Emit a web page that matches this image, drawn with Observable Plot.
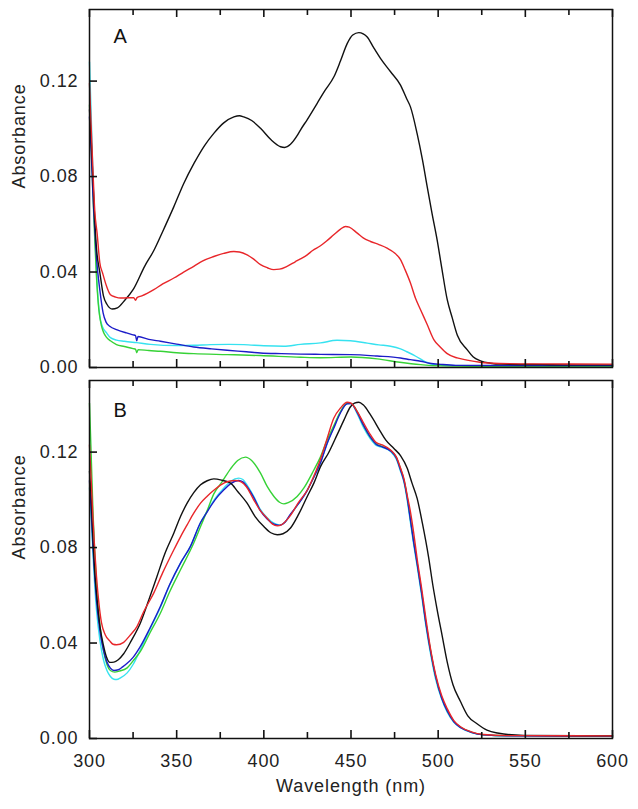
<!DOCTYPE html>
<html>
<head>
<meta charset="utf-8">
<script src="https://cdn.jsdelivr.net/npm/d3@7"></script>
<script src="https://cdn.jsdelivr.net/npm/@observablehq/plot@0.6"></script>
<style>
  html, body { margin: 0; padding: 0; background: #fff; }
  #chart svg text { letter-spacing: 0.9px; }
</style>
</head>
<body>
<div id="chart"></div>
<script>
// ---------- data ----------
const panels = ["A", "B"];
const seriesNames = ["cyan", "green", "blue", "black", "red"]; // drawing order
const seriesColors = ["#36e2f0", "#36d236", "#1c1cc8", "#111111", "#e8262a"];
const xDomain = [300, 600];
const yDomain = [0, 0.15];
const xTicks = [300, 350, 400, 450, 500, 550, 600];
const xMinorTicks = [325, 375, 425, 475, 525, 575];
const yTicks = [0, 0.04, 0.08, 0.12];

// Panel A spectra: [wavelength (nm), absorbance]
const A_black = [[300,0.108],[301,0.095],[302,0.078],[303,0.062],[304,0.050],[305.9,0.040],[308,0.030],[310,0.0265],[313,0.0245],[316,0.025],[320,0.028],[325,0.0326],[331.7,0.0425],[336.9,0.049],[342,0.057],[348.4,0.0674],[354,0.077],[360,0.0856],[366,0.093],[371.3,0.0981],[377,0.1025],[382.8,0.105],[386,0.1055],[388.5,0.105],[393,0.1035],[398.1,0.1002],[404,0.0955],[409.6,0.0925],[412,0.0922],[415.3,0.0935],[419,0.097],[421,0.0995],[425,0.104],[430.6,0.1107],[435,0.116],[440.2,0.1218],[444,0.1285],[447.8,0.1357],[451,0.1393],[454.5,0.1403],[457,0.1398],[459.3,0.1385],[463,0.134],[466.9,0.1295],[472.7,0.1239],[478.4,0.1183],[482,0.1125],[484.1,0.1092],[487.9,0.0981],[491,0.087],[493.7,0.0758],[496.5,0.0645],[499.4,0.0535],[502,0.042],[505.2,0.0284],[508,0.021],[511,0.0135],[516.6,0.0075],[520,0.0045],[524.3,0.0028],[530,0.0018],[536,0.0014],[560,0.0012],[580,0.0011],[600,0.0011]];
const A_red = [[300,0.119],[301,0.100],[302,0.082],[303,0.066],[304.4,0.056],[305.9,0.044],[307.5,0.0396],[309.8,0.034],[312,0.0305],[315,0.0295],[317.8,0.0291],[322,0.0292],[325.4,0.0292],[326.4,0.0282],[327.3,0.0293],[330,0.030],[336.9,0.0326],[342,0.035],[348.4,0.0375],[354,0.040],[359.8,0.0424],[365,0.0447],[371.3,0.0465],[377,0.0478],[382.8,0.0486],[386,0.0484],[390.4,0.0472],[394,0.0455],[398.1,0.0431],[402,0.0418],[405.7,0.041],[409,0.0412],[413.3,0.0424],[418,0.0443],[421,0.0455],[424.9,0.0472],[428,0.049],[432.5,0.051],[436,0.053],[440.1,0.0556],[444,0.058],[446.8,0.0591],[449,0.0588],[453.6,0.0563],[457,0.0543],[461.2,0.0528],[466,0.0515],[470.7,0.050],[475,0.048],[478.4,0.0452],[481,0.041],[484.1,0.0354],[487,0.029],[489.9,0.0242],[493.7,0.018],[497.5,0.0117],[501.3,0.0085],[505.2,0.0058],[510.9,0.0040],[516.6,0.0031],[524,0.0022],[535,0.0017],[560,0.0015],[600,0.0014]];
const A_blue = [[300,0.105],[301,0.090],[302,0.072],[303,0.058],[304,0.046],[305.9,0.0326],[307.8,0.0229],[309.5,0.019],[311.6,0.0173],[315.9,0.0158],[321.2,0.0145],[325,0.0137],[326.4,0.0134],[327.1,0.0112],[327.8,0.0130],[334,0.0118],[340.7,0.011],[350,0.0098],[359.8,0.0086],[370,0.0078],[379,0.0072],[390,0.0066],[398,0.0061],[410,0.0058],[421,0.0056],[432.5,0.0055],[449.7,0.0054],[465,0.0048],[478.4,0.0040],[484,0.0033],[490,0.0026],[495,0.0018],[501.5,0.0013],[510,0.0009],[600,0.0008]];
const A_cyan = [[300,0.128],[301,0.105],[302,0.080],[303,0.058],[304,0.040],[305.9,0.0215],[307.5,0.017],[309.8,0.0145],[312,0.0125],[315.5,0.0115],[320,0.011],[327,0.0104],[335,0.0097],[350,0.0092],[360,0.0093],[369.4,0.0096],[380,0.0097],[388.5,0.0096],[400,0.0091],[411.5,0.0089],[421,0.0097],[432.5,0.0103],[442,0.0114],[449.7,0.0112],[459.3,0.0102],[466,0.0095],[472.7,0.0089],[478.4,0.0078],[482,0.0066],[486,0.0052],[490,0.0035],[493.7,0.0021],[497,0.0013],[502,0.0009],[520,0.0008],[600,0.0008]];
const A_green = [[300,0.110],[301,0.092],[302,0.072],[303,0.054],[304,0.038],[305,0.027],[306.9,0.0173],[308.2,0.0145],[309.8,0.0126],[312,0.0112],[315.5,0.0096],[320,0.0088],[325,0.0079],[326.4,0.0077],[327.1,0.0062],[327.9,0.0075],[334,0.0071],[340.7,0.0068],[350,0.0062],[359.8,0.0058],[379,0.0054],[398,0.0050],[421,0.0043],[432.5,0.0041],[450,0.0044],[465,0.0036],[478,0.0022],[490,0.0012],[497,0.0008],[520,0.0005],[600,0.0005]];

// Panel B spectra
const B_black = [[300,0.112],[301,0.100],[302,0.083],[303,0.070],[304,0.061],[306,0.047],[308,0.039],[309.8,0.034],[311.6,0.0319],[314,0.032],[316.5,0.033],[319.6,0.0355],[324,0.041],[329.2,0.0484],[334,0.058],[338.7,0.0679],[343,0.077],[348.4,0.0861],[352.2,0.093],[356,0.0986],[359.8,0.103],[363.7,0.1063],[367.5,0.108],[371.3,0.1088],[376,0.1082],[380.9,0.107],[385,0.1035],[390.4,0.0986],[395,0.093],[400,0.0888],[404,0.0862],[407.7,0.0854],[411,0.0858],[415.3,0.0882],[420,0.094],[424.9,0.1014],[428.7,0.107],[432.5,0.1139],[437,0.1195],[442,0.1272],[446,0.1335],[449.7,0.139],[452,0.1405],[454.5,0.1409],[457,0.1398],[461.2,0.1356],[466.9,0.1286],[470,0.125],[474.5,0.1216],[478.4,0.1185],[482.2,0.1133],[485,0.107],[487.9,0.1007],[491,0.090],[494.5,0.076],[497,0.064],[499.4,0.054],[502.3,0.043],[505.2,0.032],[508.5,0.0225],[512.8,0.0155],[517,0.0095],[522.3,0.0062],[528,0.0035],[534,0.0023],[549,0.0013],[600,0.0011]];
const B_red = [[300,0.123],[301,0.108],[302,0.092],[303,0.079],[304,0.068],[305.5,0.056],[306.9,0.0484],[309,0.0435],[311.5,0.041],[313.5,0.0395],[315.5,0.0393],[319.6,0.0403],[323,0.043],[327.3,0.047],[331,0.053],[336.9,0.061],[342,0.0695],[348.4,0.0791],[352.2,0.0845],[356,0.0895],[359.8,0.0944],[363.7,0.0986],[367.5,0.1015],[371.3,0.104],[375.1,0.1062],[380,0.1078],[383.7,0.1081],[387,0.1075],[390,0.1055],[394.2,0.1000],[398,0.0955],[401.9,0.0923],[405,0.0898],[407.7,0.0891],[410,0.0895],[415.3,0.0935],[420,0.099],[424.9,0.104],[428.7,0.110],[432.5,0.117],[436,0.125],[440.1,0.1342],[444,0.1385],[447.8,0.1409],[450,0.1405],[453.6,0.137],[457,0.1325],[461.2,0.1272],[464.5,0.124],[467.9,0.123],[472.7,0.1209],[476,0.118],[478.4,0.1133],[480.5,0.1085],[482.2,0.102],[484.1,0.095],[486,0.086],[488,0.075],[490.5,0.063],[493,0.050],[496,0.036],[498.5,0.027],[502,0.018],[505.2,0.0125],[509,0.0075],[513,0.0048],[519,0.0028],[526,0.0017],[540,0.0012],[600,0.0011]];
const B_blue = [[300,0.108],[301,0.095],[302,0.080],[303,0.068],[304,0.058],[306,0.045],[308,0.037],[310,0.032],[312,0.0295],[314,0.0285],[316.5,0.0288],[319,0.030],[321.6,0.0315],[325,0.034],[329.2,0.0386],[334.5,0.046],[340.7,0.0554],[346,0.0645],[352.2,0.0735],[357.9,0.0805],[363.7,0.0905],[367.5,0.095],[372,0.100],[377.1,0.1042],[381,0.1068],[385.6,0.1081],[388,0.1075],[390.4,0.1055],[394.2,0.101],[398,0.0955],[401.9,0.092],[405.8,0.0898],[409,0.0893],[412,0.0905],[415.3,0.094],[420,0.0985],[424.9,0.104],[428.7,0.1095],[432.5,0.1155],[436,0.123],[440.1,0.130],[444,0.1365],[447.8,0.1402],[450,0.1403],[453.6,0.1365],[457,0.1315],[461.2,0.1262],[464.5,0.1232],[467.9,0.1222],[472.7,0.1205],[476,0.1175],[478.4,0.1125],[480.5,0.1075],[482.2,0.101],[484,0.092],[486,0.082],[488,0.073],[490.5,0.061],[493,0.048],[496,0.035],[498.5,0.026],[502,0.017],[505.2,0.0115],[509,0.007],[513,0.0045],[519,0.0026],[526,0.0015],[540,0.0011],[600,0.0010]];
const B_cyan = [[300,0.105],[301,0.092],[302,0.077],[303,0.064],[304,0.054],[306,0.041],[308,0.033],[310,0.0285],[312,0.026],[314,0.0248],[315.5,0.0247],[318,0.0255],[321.6,0.0275],[325,0.031],[329.2,0.0372],[334.5,0.0455],[340.7,0.055],[346,0.0643],[352.2,0.0735],[357.9,0.0805],[363.7,0.0905],[367.5,0.0952],[372,0.1005],[377.1,0.105],[381,0.1078],[385.6,0.1091],[388,0.1085],[390.4,0.1062],[394.2,0.1015],[398,0.096],[401.9,0.0925],[405.8,0.0902],[409,0.0895],[412,0.0905],[415.3,0.0938],[420,0.0985],[424.9,0.104],[428.7,0.1095],[432.5,0.1155],[436,0.123],[440.1,0.1305],[444,0.1368],[447.8,0.1403],[450,0.1403],[453.6,0.136],[457,0.1305],[461.2,0.1255],[464.5,0.1228],[467.9,0.122],[472.7,0.1203],[476,0.117],[478.4,0.112],[480.5,0.107],[482.2,0.100],[484,0.091],[486,0.081],[488,0.072],[490.5,0.060],[493,0.047],[496,0.034],[498.5,0.025],[502,0.0165],[505.2,0.011],[509,0.0068],[513,0.0044],[519,0.0025],[526,0.0015],[540,0.0011],[600,0.0010]];
const B_green = [[300,0.1405],[301,0.118],[302,0.095],[303,0.078],[304,0.064],[306,0.047],[308,0.037],[310,0.031],[312,0.0285],[314.5,0.0278],[317,0.0282],[321.6,0.0296],[325,0.0325],[329.2,0.0365],[334.5,0.044],[340.7,0.0526],[346,0.0615],[352.2,0.0707],[359.8,0.0819],[363.7,0.0888],[367.5,0.0955],[371.3,0.1025],[376,0.1075],[380.9,0.113],[385,0.1165],[389.5,0.1179],[393,0.1165],[398.1,0.1112],[402,0.1055],[405.8,0.1014],[409,0.099],[411.5,0.0983],[414,0.0988],[419.1,0.1014],[423,0.105],[428.7,0.1125],[432.5,0.118],[436,0.1245],[440.1,0.131],[444,0.137],[447.8,0.1405],[450,0.1404],[453.6,0.137],[457,0.1315],[461.2,0.1262],[464.5,0.1235],[467.9,0.1224],[472.7,0.1207],[476,0.1178],[478.4,0.113],[480.5,0.108],[482.2,0.1015],[484,0.0925],[486,0.0825],[488,0.0735],[490.5,0.0615],[493,0.0485],[496,0.0355],[498.5,0.0262],[502,0.0172],[505.2,0.0118],[509,0.0072],[513,0.0047],[519,0.0027],[526,0.0016],[540,0.0012],[600,0.0012]];

// ---------- build tables ----------
const spectra = {
  A: {black: A_black, red: A_red, blue: A_blue, cyan: A_cyan, green: A_green},
  B: {black: B_black, red: B_red, blue: B_blue, cyan: B_cyan, green: B_green}
};
const rows = [];
for (const p of panels) {
  for (const s of seriesNames) {
    for (const [wl, abs] of spectra[p][s]) rows.push({panel: p, series: s, wl, abs});
  }
}
// tick tables carry the panel so they are faceted exactly like the spectra
const majorRows = panels.flatMap(p => xTicks.map(v => ({panel: p, v})));
const minorRows = panels.flatMap(p => xMinorTicks.map(v => ({panel: p, v})));
const yTickRows = panels.flatMap(p => yTicks.map(v => ({panel: p, v})));

const lineMarks = seriesNames.map((s, i) =>
  Plot.line(rows.filter(r => r.series === s), {
    x: "wl", y: "abs", fy: "panel", z: "panel",
    stroke: seriesColors[i], strokeWidth: 1.4, curve: "monotone-x"
  })
);

const axisColor = "#111111";
const majorLen = 8, minorLen = 6, yLen = 8;
const tickStyle = {stroke: axisColor, strokeWidth: 1.6};

// short inward rules anchored on the frame edges (domain ends)
const bottomTicks = (data, len) => Plot.ruleX(data, {x: "v", fy: "panel", y1: () => yDomain[0], y2: () => yDomain[0], insetBottom: len, ...tickStyle});
const topTicks = (data, len) => Plot.ruleX(data, {x: "v", fy: "panel", y1: () => yDomain[1], y2: () => yDomain[1], insetTop: len, ...tickStyle});

const chart = Plot.plot({
  width: 638,
  height: 809,
  marginLeft: 89,
  marginRight: 26,
  marginTop: 9,
  marginBottom: 70,
  style: {fontFamily: "'Liberation Sans', Arial, sans-serif", fontSize: "18px", color: "#222"},
  x: {domain: xDomain},
  y: {domain: yDomain},
  fy: {domain: panels, axis: null, padding: 0.0342},
  marks: [
    ...lineMarks,
    Plot.frame({stroke: axisColor, strokeWidth: 1.5}),
    bottomTicks(majorRows, majorLen),
    bottomTicks(minorRows, minorLen),
    topTicks(majorRows, majorLen),
    topTicks(minorRows, minorLen),
    Plot.ruleY(yTickRows, {y: "v", fy: "panel", x1: () => xDomain[0], x2: () => xDomain[0], insetRight: -yLen, ...tickStyle}),
    // x tick labels on bottom panel
    Plot.axisX({anchor: "bottom", ticks: xTicks, tickSize: 0, tickPadding: 16, tickFormat: d => String(d), label: null, fill: "#222"}),
    // y tick labels
    Plot.axisY({anchor: "left", ticks: yTicks, tickSize: 0, tickPadding: 11, tickFormat: d => d.toFixed(2), label: null, facetAnchor: null, fill: "#222"}),
    // y axis titles
    Plot.text(panels, {fy: d => d, text: () => "Absorbance", frameAnchor: "left", rotate: -90, dx: -70, fontSize: 18, fill: "#222"}),
    // x axis title
    Plot.text(["B"], {fy: d => d, text: () => "Wavelength (nm)", frameAnchor: "bottom", dy: 53, fontSize: 18, fill: "#222"}),
    // panel letters
    Plot.text(["A"], {fy: d => d, text: d => d, frameAnchor: "top-left", textAnchor: "start", lineAnchor: "top", dx: 24, dy: 19, fontSize: 20, fill: "#111"}),
    Plot.text(["B"], {fy: d => d, text: d => d, frameAnchor: "top-left", textAnchor: "start", lineAnchor: "top", dx: 24, dy: 22, fontSize: 20, fill: "#111"})
  ]
});
document.getElementById("chart").appendChild(chart);
</script>
</body>
</html>
